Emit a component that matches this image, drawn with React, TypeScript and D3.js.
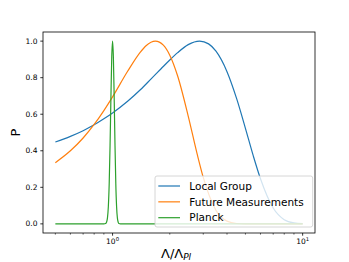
import * as d3 from 'd3';

// sample positions (Λ/Λ_Pl) and probabilities
const xLocal = [0.5, 0.6, 0.7, 0.8, 0.9, 1.0, 1.2, 1.4, 1.6, 1.8, 2.0, 2.2, 2.5, 2.87, 3.2, 3.5, 4.0, 4.5, 5.0, 5.5, 6.0, 7.0, 8.0, 9.0, 10.0];
const localGroup = [0.448, 0.479, 0.51, 0.542, 0.575, 0.607, 0.671, 0.734, 0.795, 0.849, 0.897, 0.937, 0.981, 1.0, 0.985, 0.945, 0.833, 0.684, 0.523, 0.372, 0.247, 0.087, 0.023, 0.005, 0.001];

const xFuture = [0.5, 0.6, 0.7, 0.8, 0.9, 1.0, 1.2, 1.4, 1.5, 1.68, 1.85, 2.0, 2.2, 2.5, 2.8, 3.0, 3.5, 4.0, 4.5, 5.0, 10.0];
const futureMeasurements = [0.335, 0.4, 0.47, 0.544, 0.62, 0.695, 0.835, 0.94, 0.975, 1.0, 0.978, 0.923, 0.809, 0.59, 0.373, 0.254, 0.074, 0.015, 0.002, 0.0, 0.0];

const xPlanck = [0.5, 0.8, 0.9, 0.92, 0.93, 0.94, 0.95, 0.96, 0.97, 0.98, 0.99, 1.0, 1.01, 1.02, 1.03, 1.04, 1.05, 1.06, 1.07, 1.08, 1.1, 1.5, 10.0];
const planck = [0.0, 0.0, 0.0, 0.002, 0.01, 0.033, 0.094, 0.22, 0.427, 0.685, 0.91, 1.0, 0.91, 0.685, 0.427, 0.22, 0.094, 0.033, 0.01, 0.002, 0.0, 0.0, 0.0];

const seriesNames = ['Local Group', 'Future Measurements', 'Planck'];
const colors = ['#1f77b4', '#ff7f0e', '#2ca02c'];
const yTicks = [0.0, 0.2, 0.4, 0.6, 0.8, 1.0];

const W = 349;
const H = 262;
const left = 43;
const right = 315;
const top = 32;
const bottom = 233;
const font = 'DejaVu Sans, sans-serif';

export default function App() {
  const x = d3.scaleLog().domain([Math.pow(10, -0.366), Math.pow(10, 1.065)]).range([left, right]);
  const y = d3.scaleLinear().domain([-0.05, 1.05]).range([bottom, top]);

  const line = d3
    .line<[number, number]>()
    .x((d) => x(d[0]))
    .y((d) => y(d[1]))
    .curve(d3.curveMonotoneX);

  const series: [number, number][][] = [
    xLocal.map((v, i) => [v, localGroup[i]]),
    xFuture.map((v, i) => [v, futureMeasurements[i]]),
    xPlanck.map((v, i) => [v, planck[i]]),
  ];

  const xTicks = x.ticks();
  const majors = xTicks.filter((t) => Math.abs(Math.log10(t) - Math.round(Math.log10(t))) < 1e-9);

  return (
    <svg width={W} height={H} style={{ position: 'absolute', left: 0, top: 0 }} fontFamily={font}>
      <rect width={W} height={H} fill="#fff" />

      {series.map((s, i) => (
        <path key={i} d={line(s) ?? ''} fill="none" stroke={colors[i]} strokeWidth={1.2} />
      ))}

      {/* axes frame */}
      <rect x={left} y={top} width={right - left} height={bottom - top} fill="none" stroke="#000" strokeWidth={0.8} />

      {/* y axis */}
      {yTicks.map((t) => (
        <g key={t}>
          <line x1={left - 2.7} x2={left} y1={y(t)} y2={y(t)} stroke="#000" strokeWidth={0.8} />
          <text x={left - 5.5} y={y(t)} dy="0.35em" textAnchor="end" fontSize={7.5}>
            {t.toFixed(1)}
          </text>
        </g>
      ))}

      {/* x axis */}
      {xTicks.map((t) => {
        const major = majors.includes(t);
        return (
          <line key={t} x1={x(t)} x2={x(t)} y1={bottom} y2={bottom + (major ? 2.7 : 1.6)} stroke="#000" strokeWidth={major ? 0.8 : 0.6} />
        );
      })}
      {majors.map((t) => (
        <text key={t} x={x(t)} y={244} textAnchor="middle" fontSize={7.5}>
          10
          <tspan fontSize={5.3} dy={-3}>
            {Math.round(Math.log10(t))}
          </tspan>
        </text>
      ))}

      {/* axis labels */}
      <text x={161} y={258} fontSize={13}>
        Λ/Λ
        <tspan fontSize={9} fontStyle="italic" dy={2}>
          Pl
        </tspan>
      </text>
      <text transform={`translate(19.5, ${(top + bottom) / 2}) rotate(-90)`} textAnchor="middle" fontSize={13}>
        P
      </text>

      {/* legend */}
      <rect x={155} y={176} width={157.7} height={51} rx={2} fill="#fff" fillOpacity={0.8} stroke="#ccc" strokeWidth={0.8} />
      {seriesNames.map((n, i) => {
        const cy = 186 + i * 15.85;
        return (
          <g key={n}>
            <line x1={158.3} x2={180} y1={cy} y2={cy} stroke={colors[i]} strokeWidth={1.2} />
            <text x={189.3} y={cy} dy="0.35em" fontSize={10.5}>
              {n}
            </text>
          </g>
        );
      })}
    </svg>
  );
}
